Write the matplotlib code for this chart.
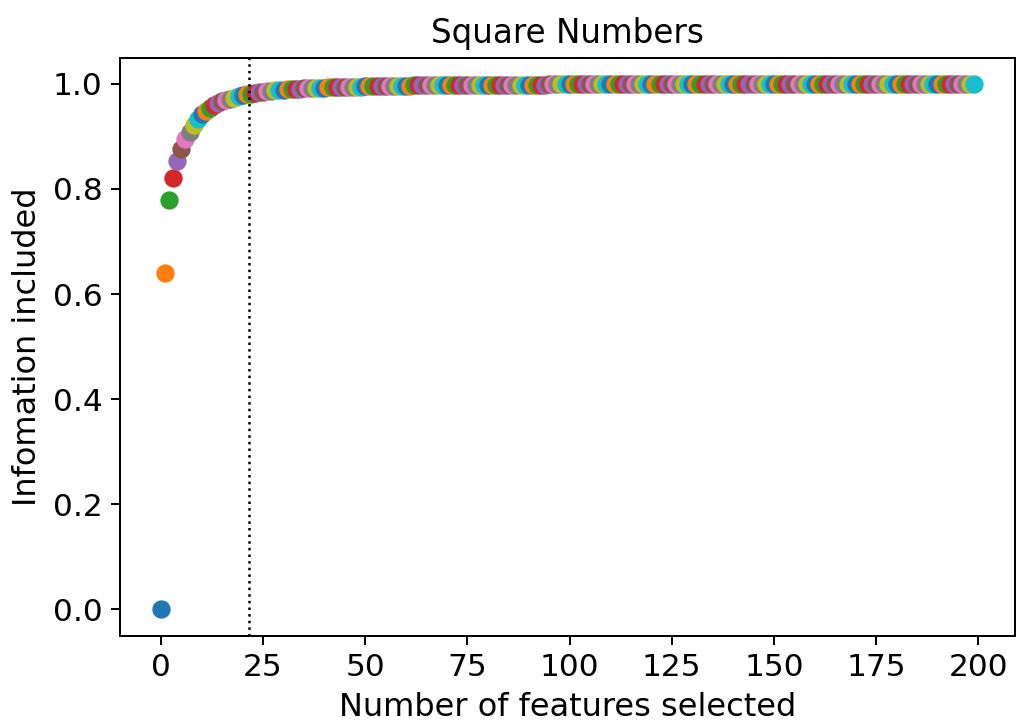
import numpy as np
import matplotlib.pyplot as plt


# information included vs number of features
info = [
    0.000, 0.640, 0.780, 0.820, 0.853, 0.877, 0.895, 0.909, 0.922, 0.933,
    0.942, 0.949, 0.955, 0.960, 0.964, 0.967, 0.970, 0.972, 0.974, 0.976,
    0.978, 0.980, 0.981, 0.983, 0.984, 0.985, 0.986, 0.987, 0.988, 0.988,
    0.989, 0.990, 0.990, 0.991, 0.991, 0.992, 0.992, 0.992, 0.993, 0.993,
    0.993, 0.994, 0.994, 0.994, 0.994, 0.995, 0.995, 0.995, 0.995, 0.995,
    0.996, 0.996, 0.996, 0.996, 0.996, 0.996, 0.996, 0.996, 0.996, 0.996,
    0.996, 0.996, 0.997, 0.997, 0.997, 0.997, 0.997, 0.997, 0.997, 0.997,
    0.997, 0.997, 0.997, 0.997, 0.997, 0.997, 0.997, 0.997, 0.997, 0.997,
    0.998, 0.998, 0.998, 0.998, 0.998, 0.998, 0.998, 0.998, 0.998, 0.998,
    0.998, 0.998, 0.998, 0.998, 0.998, 0.999, 0.999, 0.999, 0.999, 0.999,
    0.999, 0.999, 0.999, 0.999, 0.999, 0.999, 0.999, 0.999, 0.999, 0.999,
    0.999, 0.999, 0.999, 0.999, 0.999, 0.999, 0.999, 0.999, 0.999, 0.999,
    0.999, 0.999, 0.999, 0.999, 0.999, 0.999, 0.999, 0.999, 0.999, 0.999,
    1.000, 1.000, 1.000, 1.000, 1.000, 1.000, 1.000, 1.000, 1.000, 1.000,
    1.000, 1.000, 1.000, 1.000, 1.000, 1.000, 1.000, 1.000, 1.000, 1.000,
    1.000, 1.000, 1.000, 1.000, 1.000, 1.000, 1.000, 1.000, 1.000, 1.000,
    1.000, 1.000, 1.000, 1.000, 1.000, 1.000, 1.000, 1.000, 1.000, 1.000,
    1.000, 1.000, 1.000, 1.000, 1.000, 1.000, 1.000, 1.000, 1.000, 1.000,
    1.000, 1.000, 1.000, 1.000, 1.000, 1.000, 1.000, 1.000, 1.000, 1.000,
    1.000, 1.000, 1.000, 1.000, 1.000, 1.000, 1.000, 1.000, 1.000, 1.000,
]
n_features = np.arange(len(info))
cutoff = 21.5

fig = plt.figure(figsize=(1019 / 180, 720 / 180), dpi=180)
ax = fig.add_axes([0.118, 0.117, 0.878, 0.803])

for n, v in zip(n_features, info):
    ax.scatter(n, v, s=40)

ax.axvline(cutoff, color='black', linestyle=':', linewidth=1)

ax.set_title('Square Numbers', fontsize=13)
ax.set_xlabel('Number of features selected', fontsize=12.8)
ax.set_ylabel('Infomation included', fontsize=12.8)
ax.tick_params(labelsize=12.5)

fig.savefig('out.png', dpi=180)
